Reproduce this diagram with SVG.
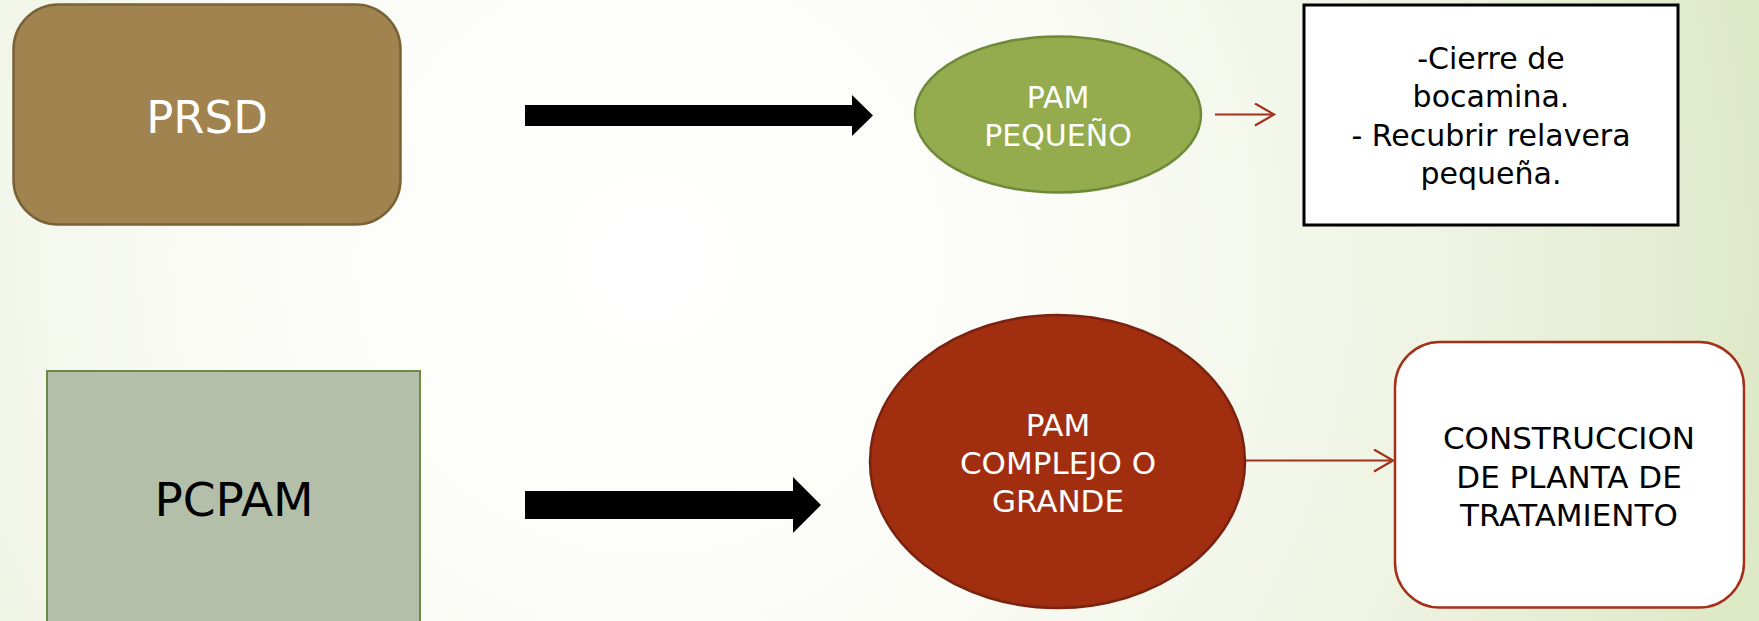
<svg xmlns="http://www.w3.org/2000/svg" width="1759" height="621" viewBox="0 0 1759 621">
<defs>
<radialGradient id="bg" cx="650" cy="260" r="1150" gradientUnits="userSpaceOnUse">
<stop offset="0" stop-color="#ffffff"/>
<stop offset="0.35" stop-color="#fbfcf7"/>
<stop offset="0.7" stop-color="#eef3e2"/>
<stop offset="1" stop-color="#dde8c6"/>
</radialGradient>
<marker id="open" markerWidth="24" markerHeight="24" refX="20" refY="12" orient="auto" markerUnits="userSpaceOnUse">
<path d="M1,1 L20,12 L1,23" fill="none" stroke="#a3301a" stroke-width="2.2"/>
</marker>
</defs>
<style>
text{font-family:"DejaVu Sans","Liberation Sans",sans-serif;text-anchor:middle}
.w{fill:#ffffff}
.k{fill:#000000}
.red{stroke:#a3301a;stroke-width:2.2;fill:none}
</style>
<rect x="0" y="0" width="1759" height="621" fill="url(#bg)"/>
<g id="connectors">
<path d="M525,105 H852 V95 L873,115.5 L852,136 V126 H525 Z" fill="#000000"/>
<path d="M525,491 H793 V477 L821,505 L793,533 V519 H525 Z" fill="#000000"/>
<line x1="1215" y1="114.5" x2="1274" y2="114.5" class="red" marker-end="url(#open)"/>
<line x1="1245" y1="460.5" x2="1393" y2="460.5" class="red" marker-end="url(#open)"/>
</g>
<g id="prsd">
<rect x="13.5" y="4.5" width="387" height="220" rx="45" fill="#a0834f" stroke="#7a6238" stroke-width="2.5"/>
<text x="207" y="133" font-size="45" class="w">PRSD</text>
</g>
<g id="pam-pequeno">
<ellipse cx="1058" cy="114.5" rx="143" ry="78" fill="#94ac4e" stroke="#6e8a38" stroke-width="2.5"/>
<text x="1058" y="108" font-size="30" class="w">PAM</text>
<text x="1058" y="146" font-size="30" class="w">PEQUEÑO</text>
</g>
<g id="cierre">
<rect x="1304" y="5" width="374" height="220" fill="#ffffff" stroke="#000000" stroke-width="3"/>
<text x="1491" y="69" font-size="30" class="k">-Cierre de</text>
<text x="1491" y="107" font-size="30" class="k">bocamina.</text>
<text x="1491" y="145.5" font-size="30" class="k">- Recubrir relavera</text>
<text x="1491" y="183.5" font-size="30" class="k">pequeña.</text>
</g>
<g id="pcpam">
<rect x="47" y="371" width="373" height="270" fill="#b4bfa9" stroke="#6e8a4a" stroke-width="2"/>
<text x="234" y="516" font-size="47" class="k">PCPAM</text>
</g>
<g id="pam-complejo">
<ellipse cx="1057.5" cy="461.5" rx="187.5" ry="146.5" fill="#a22e10" stroke="#7a2210" stroke-width="2.5"/>
<text x="1058" y="435.5" font-size="31" class="w">PAM</text>
<text x="1058" y="474" font-size="31" class="w">COMPLEJO O</text>
<text x="1058" y="512" font-size="31" class="w">GRANDE</text>
</g>
<g id="construccion">
<rect x="1395" y="342" width="349" height="265.5" rx="45" fill="#ffffff" stroke="#a3301a" stroke-width="2.5"/>
<text x="1569" y="449" font-size="31" class="k">CONSTRUCCION</text>
<text x="1569" y="487.5" font-size="31" class="k">DE PLANTA DE</text>
<text x="1569" y="525.5" font-size="31" class="k">TRATAMIENTO</text>
</g>
</svg>
